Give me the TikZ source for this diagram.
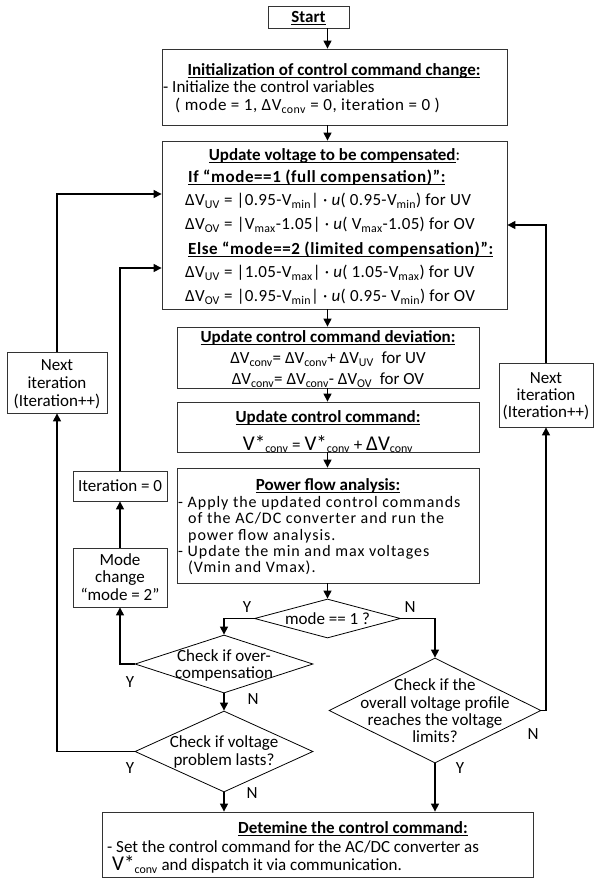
\documentclass[tikz,border=0pt]{standalone}
\usepackage{fontspec}
\setmainfont{Carlito}
\newfontfamily\lsA[LetterSpace=2]{Carlito}
\newfontfamily\lsB[LetterSpace=3.5]{Carlito}
\newfontfamily\lsC[LetterSpace=6]{Carlito}
\usetikzlibrary{arrows.meta,shapes.geometric}
\newcommand\sbs[1]{\textsubscript{#1}}
\newsavebox\ulbox
\newcommand\ulx[1]{\sbox\ulbox{#1}\rlap{\rule[-2.6pt]{\wd\ulbox}{1pt}}\usebox\ulbox}
\newcommand\hd[1]{\textbf{\ulx{#1}}}
\newcommand\bigV{{\fontsize{21}{21}\selectfont V*}}
\newcommand\bigDV{{\fontsize{21}{21}\selectfont ΔV}}
\begin{document}
\begin{tikzpicture}[x=1pt,y=-1pt,
  font=\fontsize{17}{17}\selectfont,
  frame/.style={draw=black!80, line width=0.8pt, rectangle, inner sep=0pt},
  dia/.style={draw=black, line width=0.8pt, diamond, inner sep=0pt},
  txt/.style={inner sep=0pt, anchor=base west},
  ctxt/.style={inner sep=0pt, anchor=base},
  pftxt/.style={txt, font=\fontsize{16}{16}\selectfont\lsC},
  lbl/.style={inner sep=0pt},
  arr/.style={line width=1.2pt, -{Triangle[length=8pt,width=8pt]}}]
\useasboundingbox (0,0) rectangle (594,884);
\coordinate (col) at (327.5,0);

% boxes
\node[frame, minimum width=81pt,  minimum height=22pt]  (start)   at (308.5,17)    {};
\node[frame, minimum width=345pt, minimum height=76pt]  (init)    at (334.5,87)    {};
\node[frame, minimum width=345pt, minimum height=168pt] (update)  at (334.5,225)   {};
\node[frame, minimum width=302pt, minimum height=61pt]  (dev)     at (328,357.5)   {};
\node[frame, minimum width=302pt, minimum height=50pt]  (cmd)     at (328,427)     {};
\node[frame, minimum width=302pt, minimum height=115pt] (pf)      at (328,525.5)   {};
\node[frame, minimum width=100pt, minimum height=61pt]  (nextL)   at (57,382.5)    {};
\node[frame, minimum width=94pt,  minimum height=30pt]  (iter0)   at (120,486)     {};
\node[frame, minimum width=94pt,  minimum height=59pt]  (modechg) at (120,577.5)   {};
\node[frame, minimum width=94pt,  minimum height=64pt]  (nextR)   at (546,395)     {};
\node[frame, minimum width=431pt, minimum height=65pt]  (final)   at (317.5,844.5) {};

% decisions
\node[dia, minimum width=146pt, minimum height=39pt]  (mode1)    at (327.5,618.5) {};
\node[dia, minimum width=178pt, minimum height=58pt]  (overcomp) at (224,664)     {};
\node[dia, minimum width=178pt, minimum height=81pt]  (vprob)    at (224,751.5)   {};
\node[dia, minimum width=212pt, minimum height=105pt] (overall)  at (435,710.5)   {};

% texts
\node[ctxt] (tstart) at (308.5,22.5) {\hd{Start}};

\node[ctxt] (ti1) at (334,75.5)  {\hd{Initialization of control command change:}};
\node[txt]  (ti2) at (163,92.5)  {- Initialize the control variables};
\node[txt]  (ti3) at (175,110.5) {\lsB ( mode = 1, ΔV\sbs{conv} = 0, iteration = 0 )};

\node[ctxt] (tu1) at (334.5,160.5) {\hd{Update voltage to be compensated}:};
\node[txt]  (tu2) at (188,182.5) {\lsB\hd{If “mode==1 (full compensation)”:}};
\node[txt]  (tu3) at (185,205.5) {\lsA ΔV\sbs{UV} = |0.95-V\sbs{min}| · \textit{u}( 0.95-V\sbs{min}) for UV};
\node[txt]  (tu4) at (185,229.5) {\lsA ΔV\sbs{OV} = |V\sbs{max}-1.05| · \textit{u}( V\sbs{max}-1.05) for OV};
\node[txt]  (tu5) at (188,254.5) {\lsB\hd{Else “mode==2 (limited compensation)”:}};
\node[txt]  (tu6) at (185,277.5) {\lsA ΔV\sbs{UV} = |1.05-V\sbs{max}| · \textit{u}( 1.05-V\sbs{max}) for UV};
\node[txt]  (tu7) at (185,301.5) {\lsA ΔV\sbs{OV} = |0.95-V\sbs{min}| · \textit{u}( 0.95- V\sbs{min}) for OV};

\node[ctxt] (td1) at (328,342.5) {\hd{Update control command deviation:}};
\node[ctxt] (td2) at (328,363.5) {ΔV\sbs{conv}= ΔV\sbs{conv}+ ΔV\sbs{UV}~ for UV};
\node[ctxt] (td3) at (328,384.5) {ΔV\sbs{conv}= ΔV\sbs{conv}- ΔV\sbs{OV}~ for OV};

\node[ctxt] (tc1) at (328,422.5) {\hd{Update control command:}};
\node[ctxt] (tc2) at (328,450) {\bigV\sbs{conv} = \bigV\sbs{conv} + \bigDV\sbs{conv}};

\node[ctxt]  (tp1) at (328,490.5) {\hd{Power flow analysis:}};
\node[pftxt] (tp2) at (178,507.5) {- Apply the updated control commands};
\node[pftxt] (tp3) at (188,523.7) {of the AC/DC converter and run the};
\node[pftxt] (tp4) at (188,540)   {power flow analysis.};
\node[pftxt] (tp5) at (178,556.2) {- Update the min and max voltages};
\node[pftxt] (tp6) at (188,572.5) {(Vmin and Vmax).};

\node[ctxt] (tnl1) at (57,370.5) {Next};
\node[ctxt] (tnl2) at (57,388.5) {iteration};
\node[ctxt] (tnl3) at (57,406.5) {(Iteration++)};

\node[ctxt] (tnr1) at (546,383.5) {Next};
\node[ctxt] (tnr2) at (546,400.5) {iteration};
\node[ctxt] (tnr3) at (546,417.5) {(Iteration++)};

\node[ctxt] (tit0) at (120,491.5) {Iteration = 0};

\node[ctxt] (tm1) at (120,565.5) {Mode};
\node[ctxt] (tm2) at (120,582.5) {change};
\node[ctxt] (tm3) at (120,600.5) {“mode = 2”};

\node[ctxt] (tq1)  at (327.5,624.5) {mode == 1 ?};
\node[ctxt] (tq2a) at (224,661.5) {Check if over-};
\node[ctxt] (tq2b) at (224,678.5) {compensation};
\node[ctxt] (tq3a) at (224,747.5) {Check if voltage};
\node[ctxt] (tq3b) at (224,765.5) {problem lasts?};
\node[ctxt] (tq4a) at (435,690.5) {Check if the};
\node[ctxt] (tq4b) at (435,708.5) {overall voltage profile};
\node[ctxt] (tq4c) at (435,725.5) {reaches the voltage};
\node[ctxt] (tq4d) at (435,742.5) {limits?};

\node[ctxt] (tf1) at (353,833.5) {\hd{Detemine the control command:}};
\node[txt]  (tf2) at (107,852.5) {- Set the control command for the AC/DC converter as};
\node[txt]  (tf3) at (112,870.5) {\bigV\sbs{conv} and dispatch it via communication.};

% yes / no labels
\node[lbl] (y1) at (247,607) {Y};
\node[lbl] (n1) at (410,607) {N};
\node[lbl] (y2) at (130,682) {Y};
\node[lbl] (n2) at (253,699) {N};
\node[lbl] (y3) at (130,768) {Y};
\node[lbl] (n3) at (252,793) {N};
\node[lbl] (n4) at (533,734) {N};
\node[lbl] (y4) at (460,768) {Y};

% main column
\draw[arr] (start.south -| col) -- (init.north -| col);
\draw[arr] (init.south -| col) -- (update.north -| col);
\draw[arr] (update.south -| col) -- (dev.north -| col);
\draw[arr] (dev.south -| col) -- (cmd.north -| col);
\draw[arr] (cmd.south -| col) -- (pf.north -| col);
\draw[arr] (pf.south -| col) -- (mode1.north);

% branches
\draw[arr] (mode1.west) -| (overcomp.north);
\draw[arr] (mode1.east) -| (overall.north);
\draw[arr] (overcomp.west) -| (modechg.south);
\draw[arr] (modechg.north) -- (iter0.south);
\draw[arr] (iter0.north) |- ([yshift=-43pt]update.west);
\draw[arr] (overcomp.south) -- (vprob.north);
\draw[arr] (vprob.west) -| (nextL.south);
\draw[arr] (nextL.north) |- ([yshift=31pt]update.west);
\draw[arr] (vprob.south) -- (vprob.south |- final.north);
\draw[arr] (overall.east) -| (nextR.south);
\draw[arr] (nextR.north) |- (update.east);
\draw[arr] (overall.south) -- (overall.south |- final.north);
\end{tikzpicture}
\end{document}
